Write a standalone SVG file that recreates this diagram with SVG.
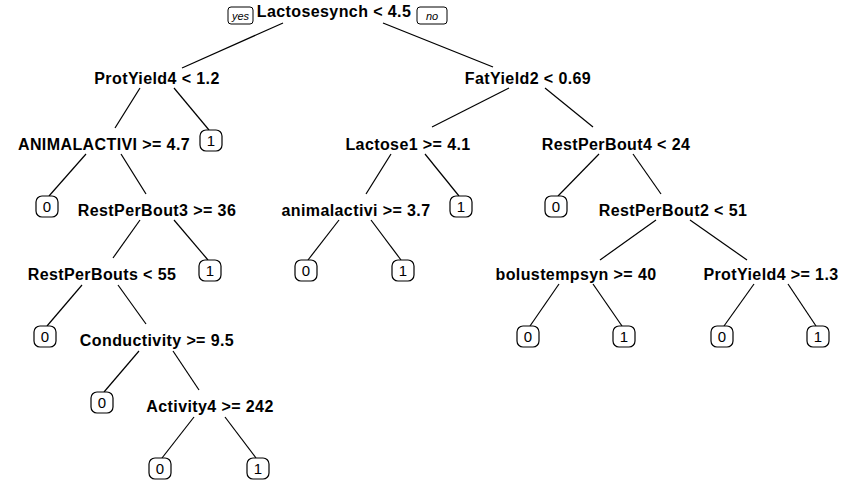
<svg xmlns="http://www.w3.org/2000/svg" width="850" height="489" viewBox="0 0 850 489">
<style>
.n{font-family:"Liberation Sans",Arial,sans-serif;font-weight:bold;font-size:16px;letter-spacing:0.4px;text-anchor:middle;fill:#000}
.lf rect{fill:#fff;stroke:#000;stroke-width:1.2}
.lf text{font-family:"Liberation Sans",Arial,sans-serif;font-size:15px;text-anchor:middle;fill:#000}
.yn rect{fill:#fff;stroke:#000;stroke-width:1}
.yn text{font-family:"Liberation Sans",Arial,sans-serif;font-size:11px;font-style:italic;text-anchor:middle;fill:#000}
#edges line{stroke:#000;stroke-width:1.2}
</style>
<rect width="850" height="489" fill="#fff"/>
<g id="edges">
<line x1="283" y1="23" x2="182" y2="68"/>
<line x1="383" y1="23" x2="493" y2="67"/>
<line x1="140" y1="88" x2="115" y2="128"/>
<line x1="174" y1="88" x2="209" y2="130"/>
<line x1="509" y1="88" x2="432" y2="127"/>
<line x1="545" y1="88" x2="593" y2="127"/>
<line x1="86" y1="154" x2="49" y2="196"/>
<line x1="121" y1="154" x2="146" y2="194"/>
<line x1="391" y1="154" x2="366" y2="194"/>
<line x1="425" y1="154" x2="459" y2="196"/>
<line x1="599" y1="154" x2="558" y2="196"/>
<line x1="633" y1="154" x2="661" y2="194"/>
<line x1="140" y1="220" x2="113" y2="258"/>
<line x1="174" y1="220" x2="208" y2="260"/>
<line x1="339" y1="220" x2="308" y2="260"/>
<line x1="371" y1="220" x2="401" y2="260"/>
<line x1="656" y1="220" x2="600" y2="260"/>
<line x1="690" y1="220" x2="747" y2="260"/>
<line x1="82" y1="285" x2="47" y2="326"/>
<line x1="118" y1="285" x2="146" y2="324"/>
<line x1="559" y1="284" x2="530" y2="326"/>
<line x1="593" y1="284" x2="622" y2="326"/>
<line x1="754" y1="284" x2="724" y2="326"/>
<line x1="788" y1="284" x2="816" y2="326"/>
<line x1="139" y1="351" x2="104" y2="392"/>
<line x1="173" y1="351" x2="199" y2="390"/>
<line x1="194" y1="417" x2="162" y2="458"/>
<line x1="225" y1="417" x2="256" y2="458"/>
</g>
<g id="root"><text class="n" x="334" y="17">Lactosesynch &lt; 4.5</text>
<g class="yn"><rect x="228" y="7" width="25" height="17" rx="3"/><text x="240.5" y="20">yes</text><rect x="417" y="7" width="30" height="17" rx="3"/><text x="432" y="20">no</text></g></g>
<g id="n2"><text class="n" x="157" y="84">ProtYield4 &lt; 1.2</text></g>
<g id="n3"><text class="n" x="528" y="84">FatYield2 &lt; 0.69</text></g>
<g id="n4"><text class="n" x="104" y="150">ANIMALACTIVI &gt;= 4.7</text></g>
<g id="n5"><text class="n" x="408" y="150">Lactose1 &gt;= 4.1</text></g>
<g id="n6"><text class="n" x="616" y="150">RestPerBout4 &lt; 24</text></g>
<g id="n7"><text class="n" x="157" y="216">RestPerBout3 &gt;= 36</text></g>
<g id="n8"><text class="n" x="356" y="216">animalactivi &gt;= 3.7</text></g>
<g id="n9"><text class="n" x="673" y="216">RestPerBout2 &lt; 51</text></g>
<g id="n10"><text class="n" x="102" y="280">RestPerBouts &lt; 55</text></g>
<g id="n11"><text class="n" x="576" y="280">bolustempsyn &gt;= 40</text></g>
<g id="n12"><text class="n" x="771" y="280">ProtYield4 &gt;= 1.3</text></g>
<g id="n13"><text class="n" x="157" y="346">Conductivity &gt;= 9.5</text></g>
<g id="n14"><text class="n" x="210" y="412">Activity4 &gt;= 242</text></g>
<g id="la" class="lf"><rect x="200" y="130" width="22" height="21" rx="6"/><text x="211" y="146">1</text></g>
<g id="lb" class="lf"><rect x="36" y="196" width="22" height="21" rx="6"/><text x="47" y="212">0</text></g>
<g id="lc" class="lf"><rect x="450" y="196" width="22" height="21" rx="6"/><text x="461" y="212">1</text></g>
<g id="ld" class="lf"><rect x="545" y="196" width="22" height="21" rx="6"/><text x="556" y="212">0</text></g>
<g id="le" class="lf"><rect x="199" y="260" width="22" height="21" rx="6"/><text x="210" y="276">1</text></g>
<g id="lf" class="lf"><rect x="295" y="260" width="22" height="21" rx="6"/><text x="306" y="276">0</text></g>
<g id="lg" class="lf"><rect x="392" y="260" width="22" height="21" rx="6"/><text x="403" y="276">1</text></g>
<g id="lh" class="lf"><rect x="34" y="326" width="22" height="21" rx="6"/><text x="45" y="342">0</text></g>
<g id="li" class="lf"><rect x="517" y="326" width="22" height="21" rx="6"/><text x="528" y="342">0</text></g>
<g id="lj" class="lf"><rect x="613" y="326" width="22" height="21" rx="6"/><text x="624" y="342">1</text></g>
<g id="lk" class="lf"><rect x="711" y="326" width="22" height="21" rx="6"/><text x="722" y="342">0</text></g>
<g id="ll" class="lf"><rect x="807" y="326" width="22" height="21" rx="6"/><text x="818" y="342">1</text></g>
<g id="lm" class="lf"><rect x="91" y="392" width="22" height="21" rx="6"/><text x="102" y="408">0</text></g>
<g id="ln" class="lf"><rect x="149" y="458" width="22" height="21" rx="6"/><text x="160" y="474">0</text></g>
<g id="lo" class="lf"><rect x="247" y="458" width="22" height="21" rx="6"/><text x="258" y="474">1</text></g>
</svg>
